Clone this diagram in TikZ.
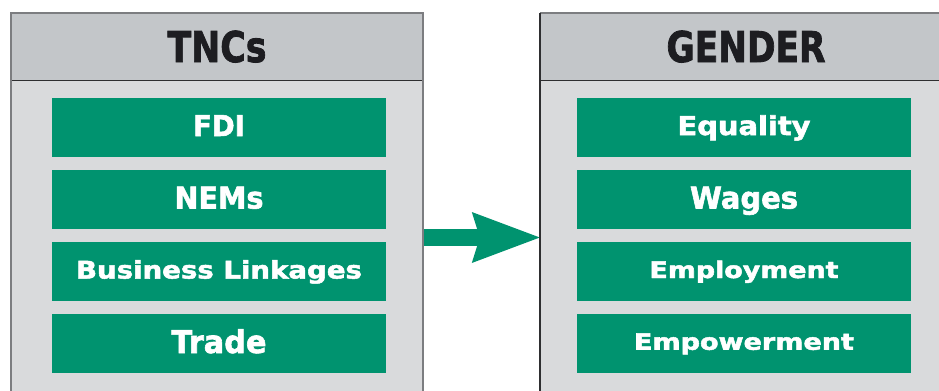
\documentclass[tikz,border=0pt]{standalone}
\usepackage{fontspec}
\setmainfont{DejaVu Sans}
\newfontfamily\heavyfont[FakeBold=2]{DejaVu Sans Bold}
\usepackage{graphicx}
\usetikzlibrary{arrows.meta}
\definecolor{hdrgray}{HTML}{C3C6C9}
\definecolor{bodygray}{HTML}{D9DADC}
\definecolor{itemgreen}{HTML}{00936F}
\definecolor{titlecol}{HTML}{1D1D21}
\definecolor{bordgray}{HTML}{7C7D80}
\definecolor{borddark}{HTML}{2E2E30}
\newcommand\lbl[3]{{\fontsize{#1}{#1}\heavyfont\resizebox{#2bp}{\height}{#3}}}
\tikzset{
  panelbox/.style={fill=bodygray, draw=none, minimum width=412bp, minimum height=449bp, inner sep=0pt},
  hdrbox/.style={fill=hdrgray, draw=none, minimum width=412bp, minimum height=67bp, inner sep=0pt,
     text=titlecol, text depth=0bp, text height=31bp},
  itembox/.style={fill=itemgreen, draw=none, minimum width=334bp, minimum height=59bp, inner sep=0pt,
     text=white, text depth=4bp},
  panelline/.style={line width=1.6bp},
}
\begin{document}
\begin{tikzpicture}[x=1bp,y=-1bp]
\useasboundingbox (0,0) rectangle (939,390);
\fill[white] (0,0) rectangle (939,390);
% panels
\node[panelbox] (LP) at (217,237.5) {};
\node[panelbox] (RP) at (746,237.5) {};
\node[hdrbox] (LH) at (217,46.5) {\lbl{42.5}{99}{TNCs}};
\node[hdrbox] (RH) at (746,46.5) {\lbl{42.5}{159}{GENDER}};
\draw[borddark, line width=1.3bp] (LH.south west) -- (LH.south east);
\draw[borddark, line width=1.3bp] (RH.south west) -- (RH.south east);
% items left
\node[itembox, text height=21bp] (L1) at (219,127.5) {\lbl{28.8}{52}{FDI}};
\node[itembox, text height=22bp] (L2) at (219,199.5) {\lbl{30.2}{89}{NEMs}};
\node[itembox, text height=18bp] (L3) at (219,271.5) {\lbl{24.3}{286}{Business Linkages}};
\node[itembox, text height=23bp] (L4) at (219,343.5) {\lbl{31.5}{95}{Trade}};
% items right
\node[itembox, text height=19bp] (R1) at (744,127.5) {\lbl{26.1}{133}{Equality}};
\node[itembox, text height=22bp] (R2) at (744,199.5) {\lbl{30.2}{108}{Wages}};
\node[itembox, text height=17bp] (R3) at (744,271.5) {\lbl{22.9}{189}{Employment}};
\node[itembox, text height=16.5bp] (R4) at (744,343.5) {\lbl{22.6}{220}{Empowerment}};
% arrow
\draw[itemgreen, line width=17bp, -{Stealth[length=68bp, width=51bp, inset=8bp, line width=0pt]}]
  (LP.east) -- (RP.west);
% outlines
\draw[bordgray, panelline] (LP.south west) -- (LP.north west) -- (LP.north east) -- (LP.south east);
\draw[bordgray, panelline] (RP.north west) -- (RP.north east);
\draw[borddark, panelline] (RP.south west) -- (RP.north west);
\end{tikzpicture}
\end{document}
